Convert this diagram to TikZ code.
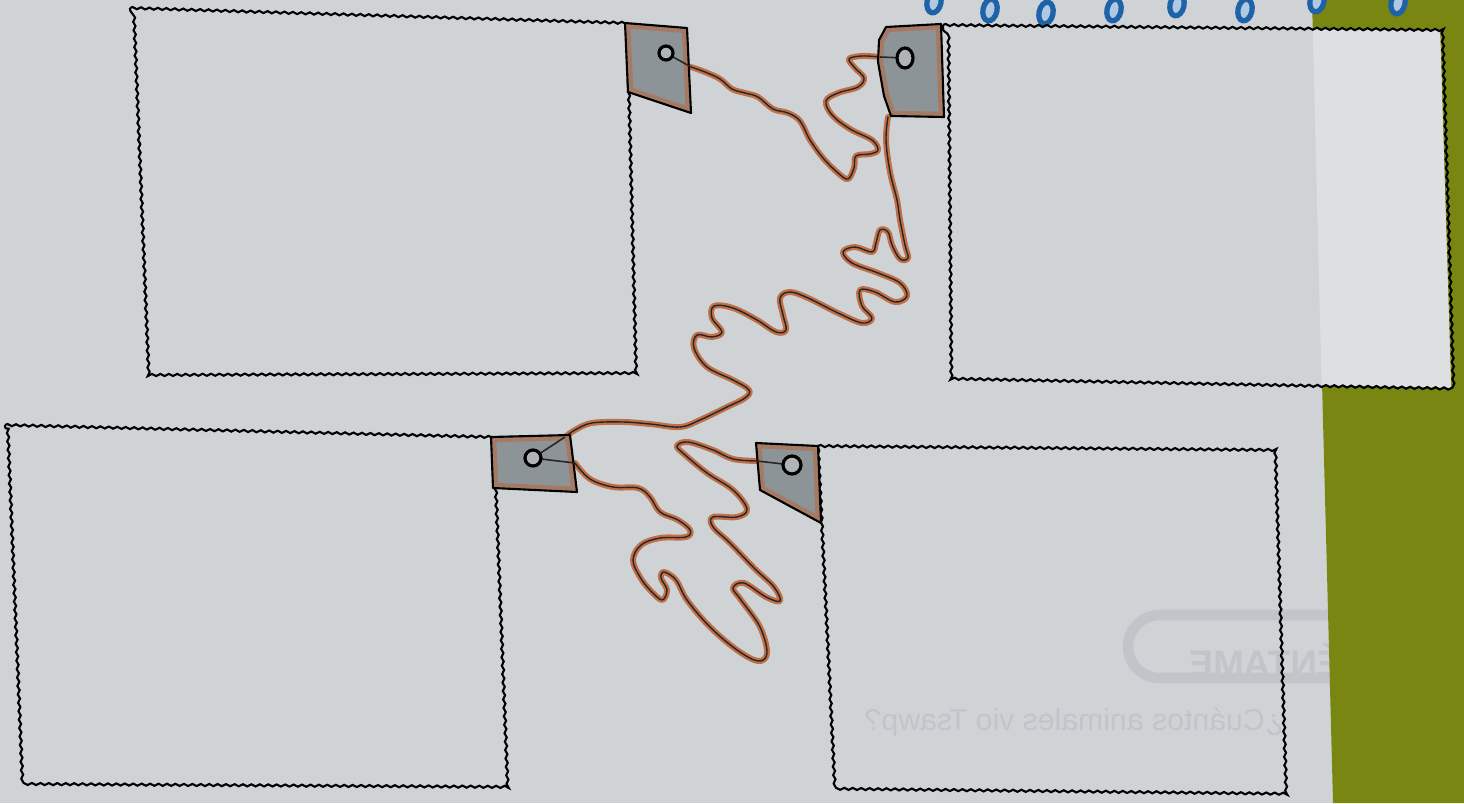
\documentclass[tikz,border=0pt]{standalone}
\usepackage{fontspec}
\setsansfont{Liberation Sans}
\usetikzlibrary{decorations.pathmorphing}

\definecolor{paper}{RGB}{208,211,214}
\definecolor{paperlight}{RGB}{221,223,225}
\definecolor{olive}{RGB}{121,134,18}
\definecolor{tagfill}{RGB}{140,148,151}
\definecolor{tagedge}{RGB}{165,122,100}
\definecolor{cordbrown}{RGB}{192,112,72}
\definecolor{ringblue}{RGB}{30,98,168}
\definecolor{ghost}{RGB}{193,197,201}

\begin{document}
\begin{tikzpicture}[
  x=0.01cm, y=-0.01cm,
  frame/.style={draw=black, line width=0.6pt, decorate,
    decoration={snake, amplitude=0.3pt, segment length=2.4pt}},
  cord/.style={draw=cordbrown, line width=1.7pt, line cap=round, line join=round,
    postaction={draw=black!85, line width=0.4pt}},
  knot/.style={draw=black!85, line width=0.45pt},
  hole/.style={draw=black, line width=0.9pt, fill=tagfill!70!white},
  ring/.style={draw=ringblue, line width=1.5pt, fill=ringblue!35!white},
  ghosttext/.style={text=ghost, font=\sffamily\fontsize{8.6}{9}\selectfont, inner sep=0pt}
]
  \useasboundingbox (0,0) rectangle (1464,803);
  \clip (0,0) rectangle (1464,803);
  % page, show-through and desk
  \fill[paper] (0,0) rectangle (1464,803);
  \draw[ghost, line width=3pt, rounded corners=9pt] (1128,615) rectangle (1460,678);
  \node[ghosttext, font=\sffamily\bfseries\fontsize{10.5}{11}\selectfont] (title) at (1292,660)
    {\reflectbox{CUÉNTAME}};
  \node[ghosttext] (question) at (1074,722) {\reflectbox{¿Cuántos animales vio Tsawp?}};
  \fill[olive] (1312,0) -- (1464,0) -- (1464,803) -- (1333,803) -- cycle;
  \foreach \x/\y in {934/2, 990/10, 1046/13, 1114/10, 1177/5, 1245/10, 1317/1, 1398/3}
    \draw[ring] (\x,\y) ellipse [x radius=7, y radius=11, rotate=-12];

  % the four boxes
  \fill[paper] (943,25) -- (1440,30) -- (1451,388) -- (946,378) -- cycle;
  \begin{scope}
    \clip (943,25) -- (1440,30) -- (1451,388) -- (946,378) -- cycle;
    \fill[paperlight] (1312,0) -- (1464,0) -- (1464,400) -- (1322,400) -- cycle;
  \end{scope}
  \draw[frame] (130,8) -- (626,23) -- (635,371) -- (145,373) -- cycle;
  \draw[frame] (943,25) -- (1440,30) -- (1451,388) -- (946,378) -- cycle;
  \draw[frame] (5,425) -- (491,437) -- (505,788) -- (20,785) -- cycle;
  \draw[frame] (818,446) -- (1275,450) -- (1286,795) -- (835,790) -- cycle;

  % holes and cord ends
  \coordinate (h1) at (666,53);
  \coordinate (h2) at (905,58);
  \coordinate (h3) at (533,458);
  \coordinate (h4) at (792,465);
  \coordinate (e1) at (691,67);
  \coordinate (e2a) at (880,57);
  \coordinate (e2b) at (888,117);
  \coordinate (e3a) at (565,437);
  \coordinate (e3b) at (575,463);
  \coordinate (e4) at (757,461);

  % cords
  \draw[cord] plot[smooth, tension=0.6] coordinates {(e1) (705,72) (720,79) (732,89)
    (745,93) (758,97) (773,109) (788,113) (800,121) (810,140) (823,158) (838,173)
    (848,179) (854,168) (856,156) (870,154) (878,150) (872,140) (850,129) (832,115)
    (826,101) (838,93) (858,87) (864,78) (855,68) (849,59) (862,56) (e2a)};
  \draw[cord] plot[smooth, tension=0.6] coordinates {(e2b) (886,140) (890,172)
    (897,200) (900,220) (905,245) (908,258) (900,259) (892,245) (888,232) (880,230)
    (876,243) (872,252) (855,247) (843,252) (852,263) (878,273) (900,283) (907,296)
    (895,302) (875,292) (860,290) (862,306) (872,318) (862,323) (838,313) (808,298)
    (790,292) (780,298) (783,315) (786,330) (776,332) (757,320) (733,308) (714,306)
    (712,318) (722,332) (712,337) (697,335) (694,348) (707,367) (733,380) (749,390)
    (745,398) (727,407) (700,420) (680,427) (650,424) (623,422) (592,423) (575,430)
    (e3a)};
  \draw[cord] plot[smooth, tension=0.6] coordinates {(e3b) (590,479) (613,487)
    (638,488) (650,497) (660,512) (678,520) (690,530) (686,537) (660,538) (641,545)
    (633,560) (640,577) (650,590) (662,600) (667,590) (661,578) (664,572) (676,580)
    (687,600) (710,627) (737,650) (758,661) (767,653) (760,627) (741,600) (733,588)
    (744,583) (766,597) (780,601) (774,587) (754,568) (730,543) (713,527) (713,517)
    (737,517) (747,509) (733,490) (707,473) (684,454) (677,446) (688,442) (713,450)
    (733,459) (e4)};

  % tags
  \foreach \t in {{(625,23) -- (687,28) -- (691,113) -- (628,92)},
                  {(886,27) -- (941,24) -- (944,117) -- (891,116) -- (884,96) -- (878,62) -- (879,40)},
                  {(491,437) -- (570,435) -- (577,492) -- (493,488)},
                  {(756,443) -- (818,446) -- (821,523) -- (760,490)}} {
    \begin{scope}
      \clip \t -- cycle;
      \fill[tagfill] \t -- cycle;
      \draw[tagedge, line width=3pt] \t -- cycle;
    \end{scope}
    \draw[black, line width=0.6pt, line join=round] \t -- cycle;
  }

  % strings through the holes
  \draw[knot] (e1) -- (h1);
  \draw[knot] (e2a) -- (h2);
  \draw[knot] (e3a) -- (h3);
  \draw[knot] (e3b) -- (h3);
  \draw[knot] (e4) -- (h4);
  \draw[hole] (h1) circle [radius=7];
  \draw[hole] (h2) ellipse [x radius=8, y radius=10];
  \draw[hole] (h3) circle [radius=8];
  \draw[hole] (h4) circle [radius=9];
\end{tikzpicture}
\end{document}
